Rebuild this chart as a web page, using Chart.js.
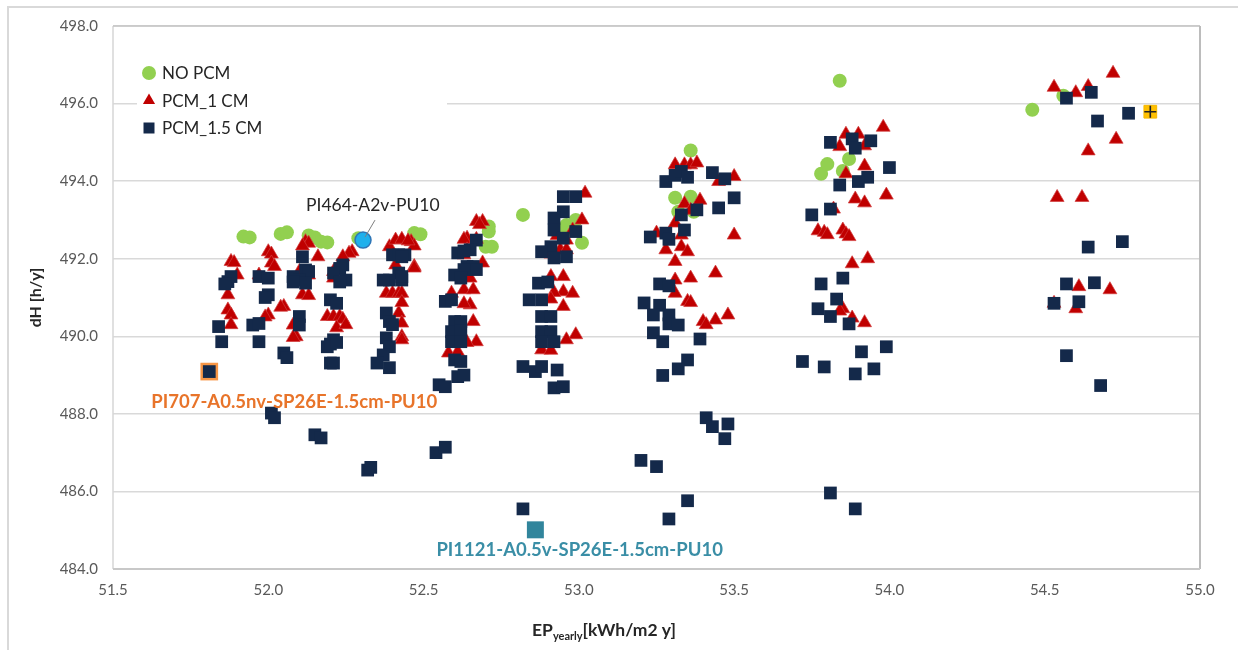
<!DOCTYPE html>
<html><head><meta charset="utf-8">
<script src="https://cdn.jsdelivr.net/npm/chart.js@4.4.0/dist/chart.umd.min.js"></script>
<style>html,body{margin:0;padding:0;background:#fff;}#wrap{width:1238px;height:650px;position:relative;}</style>
</head><body><div id="wrap"><canvas id="c" width="1238" height="650"></canvas></div>
<script>
// ---------- DATA ----------
const xTickValues = [51.5, 52.0, 52.5, 53.0, 53.5, 54.0, 54.5, 55.0];
const yTickValues = [484, 486, 488, 490, 492, 494, 496, 498];
const seriesNames = ['NO PCM', 'PCM_1 CM', 'PCM_1.5 CM'];

const noPcmX = [51.92,51.94,52.04,52.06,52.13,52.15,52.17,52.19,52.29,52.47,52.49,52.70,52.71,52.71,52.72,52.82,52.95,52.96,52.98,52.99,53.01,53.31,53.32,53.36,53.36,53.37,53.78,53.80,53.84,53.85,53.87,54.46,54.56];
const noPcmY = [492.57,492.55,492.64,492.68,492.60,492.55,492.44,492.42,492.53,492.66,492.63,492.31,492.83,492.70,492.31,493.13,492.70,492.87,492.74,493.00,492.41,493.57,493.21,493.60,494.79,493.21,494.19,494.44,496.59,494.26,494.57,495.84,496.20];

const pcm1X = [
51.88,51.89,51.90,51.87,51.87,51.88,51.88,
52.00,52.01,52.01,52.02,51.97,52.00,51.99,
52.12,52.13,52.11,52.16,52.10,52.13,52.11,52.13,52.05,52.04,52.08,52.09,52.08,
52.27,52.26,52.24,52.21,52.21,52.19,52.21,52.23,52.24,52.22,52.25,
52.39,52.41,52.43,52.46,52.47,52.41,52.47,52.38,52.40,52.42,52.42,52.43,52.43,52.45,52.47,52.43,52.43,52.43,
52.67,52.69,52.68,52.64,52.63,52.67,52.64,52.63,52.69,52.65,52.63,52.66,52.59,52.65,52.63,52.66,52.67,52.64,52.58,52.61,
53.02,53.01,52.98,52.96,52.93,52.94,52.96,52.91,52.95,52.91,52.95,52.98,52.92,52.91,52.95,52.99,52.96,52.88,52.91,
53.31,53.34,53.36,53.38,53.45,53.50,53.39,53.34,53.36,53.31,53.25,53.33,53.33,53.28,53.35,53.50,53.31,53.36,53.31,53.44,53.31,53.35,53.36,53.40,53.44,53.41,53.48,
53.98,53.86,53.90,53.92,53.84,53.92,53.86,53.99,53.89,53.92,53.82,53.77,53.79,53.80,53.85,53.86,53.87,53.88,53.93,53.85,53.84,53.88,53.92,
54.53,54.60,54.64,54.72,54.73,54.64,54.54,54.62,54.61,54.71,54.53,54.60];
const pcm1Y = [
491.93,491.90,491.58,491.07,490.68,490.55,490.30,
492.18,492.12,491.89,491.80,491.58,490.55,490.50,
492.44,492.40,492.33,492.05,491.67,491.58,491.07,491.05,490.77,490.75,490.29,489.99,489.97,
492.18,492.14,492.05,491.67,491.50,490.51,490.51,490.51,490.44,490.22,490.30,
492.31,492.48,492.50,492.44,492.33,491.84,491.80,491.11,491.11,491.11,490.60,490.34,489.99,492.46,491.76,491.11,490.87,489.91,
492.96,492.96,492.88,492.53,492.50,492.50,492.23,492.10,491.89,491.50,491.20,491.20,491.11,490.81,490.84,490.38,489.86,489.84,489.57,489.60,
493.69,493.00,492.74,492.48,492.60,492.23,492.23,492.12,491.54,491.54,491.15,491.11,491.13,490.96,490.77,490.04,489.91,489.65,489.64,
494.42,494.42,494.42,494.47,493.99,494.12,493.51,493.42,493.25,492.92,492.66,492.61,492.31,492.23,492.18,492.61,491.93,491.50,491.45,491.63,491.11,490.90,490.87,490.38,490.42,490.30,490.55,
495.39,495.21,495.21,494.91,494.89,494.39,494.19,493.64,493.54,493.44,493.28,492.72,492.68,492.62,492.74,492.64,492.57,491.87,492.00,490.71,490.65,490.47,490.35,
496.42,496.28,496.44,496.78,495.08,494.78,493.58,493.58,491.28,491.20,490.85,490.71];

const pcm15X = [
51.81,51.87,51.88,51.86,51.84,51.85,
51.97,52.00,52.00,51.99,51.95,51.97,51.97,
52.11,52.12,52.13,52.08,52.10,52.08,52.12,52.10,52.10,52.05,52.06,52.01,52.02,52.15,52.17,
52.24,52.23,52.21,52.25,52.23,52.20,52.22,52.21,52.19,52.20,52.22,52.20,52.21,52.32,52.33,
52.40,52.42,52.44,52.42,52.39,52.37,52.43,52.38,52.39,52.40,52.38,52.39,52.37,52.35,52.39,52.43,52.43,
52.67,52.65,52.61,52.63,52.64,52.66,52.67,52.63,52.60,52.62,52.57,52.59,52.60,52.62,52.59,52.59,52.62,52.62,52.60,52.62,52.61,52.63,52.55,52.57,52.54,52.57,
52.95,52.99,52.95,52.92,52.92,52.99,52.95,52.91,52.88,52.92,52.96,52.87,52.90,52.84,52.88,52.88,52.91,52.88,52.91,52.88,52.92,52.82,52.86,52.88,52.93,52.92,52.95,52.82,
53.28,53.31,53.33,53.35,53.43,53.47,53.50,53.38,53.33,53.45,53.34,53.28,53.23,53.29,53.26,53.29,53.21,53.26,53.24,53.29,53.29,53.32,53.24,53.27,53.39,53.35,53.32,53.27,53.41,53.43,53.48,53.47,53.20,53.25,53.35,53.29,
53.81,53.88,53.89,53.94,54.00,53.93,53.90,53.84,53.81,53.75,53.78,53.85,53.83,53.77,53.81,53.87,53.99,53.91,53.72,53.79,53.89,53.95,53.81,53.89,
54.57,54.65,54.67,54.77,54.64,54.75,54.57,54.66,54.53,54.61,54.57,54.68];
const pcm15Y = [
489.09,491.41,491.54,491.35,490.25,489.86,
491.54,491.50,491.07,491.00,490.29,490.33,489.86,
492.05,491.71,491.67,491.54,491.45,491.40,491.37,490.51,490.29,489.57,489.45,488.02,487.90,487.46,487.38,
491.84,491.75,491.63,491.45,491.40,490.94,490.85,489.91,489.73,489.80,489.84,489.31,489.31,486.55,486.62,
492.10,492.10,492.10,491.63,491.45,491.45,491.45,490.60,490.38,490.30,489.96,489.73,489.52,489.31,489.19,492.05,491.54,
492.48,492.23,492.15,492.20,491.80,491.80,491.72,491.72,491.58,491.50,490.90,490.94,490.38,490.38,490.12,489.86,490.15,489.86,489.39,489.35,488.96,489.00,488.75,488.70,487.00,487.14,
493.60,493.60,493.21,493.05,492.74,492.70,492.53,492.31,492.18,492.02,492.05,491.37,491.40,490.94,490.94,490.51,490.51,490.12,490.12,489.86,489.86,489.22,489.09,489.22,489.13,488.67,488.70,485.55,
493.99,494.15,494.25,494.10,494.22,494.06,493.57,493.26,493.13,493.31,492.74,492.66,492.56,492.50,491.35,491.30,490.86,490.80,490.55,490.55,490.32,490.29,490.09,489.86,489.93,489.39,489.16,488.99,487.90,487.67,487.74,487.36,486.80,486.64,485.76,485.29,
495.00,495.09,494.85,495.04,494.35,494.10,493.99,493.90,493.28,493.13,491.35,491.50,490.96,490.71,490.51,490.32,489.73,489.60,489.35,489.21,489.03,489.16,485.96,485.55,
496.14,496.29,495.55,495.75,492.30,492.44,491.35,491.38,490.85,490.89,489.50,488.73];

// highlighted cases
const pi707X = [51.81], pi707Y = [489.09];
const pi464X = [52.305], pi464Y = [492.48];
const pi1121X = [52.86], pi1121Y = [485.01];
const bestX = [54.84], bestY = [495.79];

const annotationTexts = ['PI464-A2v-PU10', 'PI707-A0.5nv-SP26E-1.5cm-PU10', 'PI1121-A0.5v-SP26E-1.5cm-PU10'];
const xTitleParts = ['EP', 'yearly', '[kWh/m2 y]'];
const yTitle = 'dH [h/y]';

// ---------- BUILD ----------
const toPts = (xs, ys) => xs.map((x, i) => ({x: x, y: ys[i]}));
const FONT = 'Lato, "Open Sans", sans-serif';

const datasets = [
  {label: 'best', data: toPts(bestX, bestY), pointStyle: 'cross', pointRadius: 6, borderColor: '#222', borderWidth: 1.6, backgroundColor: '#222', order: 0, showLine: false},
  {label: 'best-bg', data: toPts(bestX, bestY), pointStyle: 'rect', pointRadius: 9, backgroundColor: '#FFC000', borderColor: '#F5B800', borderWidth: 1, order: 1},
  {label: 'PI1121', data: toPts(pi1121X, pi1121Y), pointStyle: 'rect', pointRadius: 12, backgroundColor: '#31859C', borderColor: '#31859C', borderWidth: 0, order: 2},
  {label: 'PI464', data: toPts(pi464X, pi464Y), pointStyle: 'circle', pointRadius: 8, backgroundColor: '#1FB0EC', borderColor: '#2E75B6', borderWidth: 1.5, order: 3},
  {label: seriesNames[2], data: toPts(pcm15X, pcm15Y), pointStyle: 'rect', pointRadius: 9, backgroundColor: '#14294A', borderColor: '#14294A', borderWidth: 0, order: 4},
  {label: seriesNames[1], data: toPts(pcm1X, pcm1Y), pointStyle: 'triangle', pointRadius: 8, backgroundColor: '#C00000', borderColor: 'rgba(210,60,60,0.9)', borderWidth: 0.8, order: 5},
  {label: seriesNames[0], data: toPts(noPcmX, noPcmY), pointStyle: 'circle', pointRadius: 7, backgroundColor: '#92D050', borderColor: '#92D050', borderWidth: 0, order: 6},
  {label: 'PI707', data: toPts(pi707X, pi707Y), pointStyle: 'rect', pointRadius: 12.5, backgroundColor: '#F79646', borderColor: '#F79646', borderWidth: 0, order: 7}
];
datasets.forEach(d => { d.pointHoverRadius = d.pointRadius; });

const legendItems = [
  {text: seriesNames[0], style: 'circle', color: '#92D050', r: 7},
  {text: seriesNames[1], style: 'triangle', color: '#C00000', r: 7},
  {text: seriesNames[2], style: 'rect', color: '#14294A', r: 7.5}
];

const decor = {
  id: 'decor',
  beforeDraw(chart) {
    const ctx = chart.ctx;
    ctx.save();
    ctx.fillStyle = '#fff';
    ctx.fillRect(0, 0, chart.width, chart.height);
    ctx.strokeStyle = '#d9d9d9';
    ctx.lineWidth = 2;
    ctx.strokeRect(8, 7, chart.width + 20, chart.height + 20);
    ctx.restore();
  },
  beforeDatasetsDraw(chart) {
    const ctx = chart.ctx, a = chart.chartArea;
    ctx.save();
    ctx.lineWidth = 1.5;
    ctx.strokeStyle = '#d6d6d6';
    ctx.beginPath(); ctx.moveTo(a.left, a.top); ctx.lineTo(a.left, a.bottom); ctx.stroke();
    ctx.strokeStyle = '#c4c4c4';
    ctx.beginPath(); ctx.moveTo(a.left, a.top); ctx.lineTo(a.right, a.top); ctx.stroke();
    ctx.lineWidth = 2;
    ctx.strokeStyle = '#bcbcbc';
    ctx.beginPath(); ctx.moveTo(a.right, a.top); ctx.lineTo(a.right, a.bottom); ctx.stroke();
    ctx.strokeStyle = '#c8c8c8';
    ctx.beginPath(); ctx.moveTo(a.left, a.bottom); ctx.lineTo(a.right, a.bottom); ctx.stroke();
    ctx.restore();
  },
  afterDraw(chart) {
    const ctx = chart.ctx, xs = chart.scales.x, ys = chart.scales.y;
    ctx.save();
    // legend
    ctx.fillStyle = '#fff';
    ctx.fillRect(137, 52, 310, 92);
    ctx.font = '17px ' + FONT;
    ctx.textBaseline = 'middle';
    legendItems.forEach((it, i) => {
      const cx = 149, cy = 73 + i * 27.5;
      ctx.fillStyle = it.color;
      ctx.beginPath();
      if (it.style === 'circle') ctx.arc(cx, cy, it.r, 0, Math.PI * 2);
      else if (it.style === 'triangle') { ctx.moveTo(cx, cy - it.r); ctx.lineTo(cx + it.r * 0.87, cy + it.r * 0.5); ctx.lineTo(cx - it.r * 0.87, cy + it.r * 0.5); ctx.closePath(); }
      else ctx.rect(cx - 5.5, cy - 5.5, 11, 11);
      ctx.fill();
      ctx.fillStyle = '#262626';
      ctx.textAlign = 'left';
      ctx.fillText(it.text, 162, cy + 1);
    });
    // annotation PI464
    const bx = xs.getPixelForValue(pi464X[0]), by = ys.getPixelForValue(pi464Y[0]);
    ctx.strokeStyle = '#7f7f7f'; ctx.lineWidth = 1;
    ctx.beginPath(); ctx.moveTo(bx + 12, by - 20); ctx.lineTo(bx + 2, by - 3); ctx.stroke();
    ctx.fillStyle = '#262626';
    ctx.font = '17.5px ' + FONT;
    ctx.textAlign = 'left'; ctx.textBaseline = 'middle';
    ctx.fillText(annotationTexts[0], bx - 57, by - 35);
    // annotation PI707
    const ox = xs.getPixelForValue(pi707X[0]), oy = ys.getPixelForValue(pi707Y[0]);
    ctx.fillStyle = '#E8742A';
    ctx.font = 'bold 18.5px ' + FONT;
    ctx.fillText(annotationTexts[1], ox - 58, oy + 30);
    // annotation PI1121
    const tx = xs.getPixelForValue(pi1121X[0]), ty = ys.getPixelForValue(pi1121Y[0]);
    ctx.fillStyle = '#3A8EA6';
    ctx.fillText(annotationTexts[2], tx - 99, ty + 20);
    // y title
    ctx.fillStyle = '#262626';
    ctx.font = 'bold 16px ' + FONT;
    ctx.save();
    ctx.translate(36, (chart.chartArea.top + chart.chartArea.bottom) / 2);
    ctx.rotate(-Math.PI / 2);
    ctx.textAlign = 'center'; ctx.textBaseline = 'middle';
    ctx.fillText(yTitle, 0, 0);
    ctx.restore();
    // x title
    ctx.textAlign = 'left'; ctx.textBaseline = 'alphabetic';
    let x0 = 532; const base = 636;
    ctx.font = 'bold 17.5px ' + FONT;
    ctx.fillText(xTitleParts[0], x0, base); x0 += ctx.measureText(xTitleParts[0]).width;
    ctx.font = 'bold 11px ' + FONT;
    ctx.fillText(xTitleParts[1], x0, base + 4); x0 += ctx.measureText(xTitleParts[1]).width;
    ctx.font = 'bold 17.5px ' + FONT;
    ctx.fillText(xTitleParts[2], x0, base);
    ctx.restore();
  }
};

new Chart(document.getElementById('c'), {
  type: 'scatter',
  data: {datasets: datasets},
  options: {
    responsive: false,
    animation: false,
    layout: {padding: {left: 0, top: 26, right: 38, bottom: 0}},
    plugins: {legend: {display: false}, tooltip: {enabled: false}},
    scales: {
      x: {
        type: 'linear', min: xTickValues[0], max: xTickValues[xTickValues.length - 1],
        afterFit: s => { s.height = 81; },
        afterBuildTicks: s => { s.ticks = xTickValues.map(v => ({value: v})); },
        grid: {display: false, drawTicks: false},
        border: {display: false},
        ticks: {padding: 12, color: '#595959', font: {family: FONT, size: 15}, callback: v => Number(v).toFixed(1)}
      },
      y: {
        type: 'linear', min: yTickValues[0], max: yTickValues[yTickValues.length - 1],
        afterFit: s => { s.width = 113; },
        afterBuildTicks: s => { s.ticks = yTickValues.map(v => ({value: v})); },
        grid: {color: '#d9d9d9', lineWidth: 1.5, drawTicks: false},
        border: {display: false},
        ticks: {padding: 15, color: '#595959', font: {family: FONT, size: 15}, callback: v => Number(v).toFixed(1)}
      }
    }
  },
  plugins: [decor]
});
</script>
</body></html>
